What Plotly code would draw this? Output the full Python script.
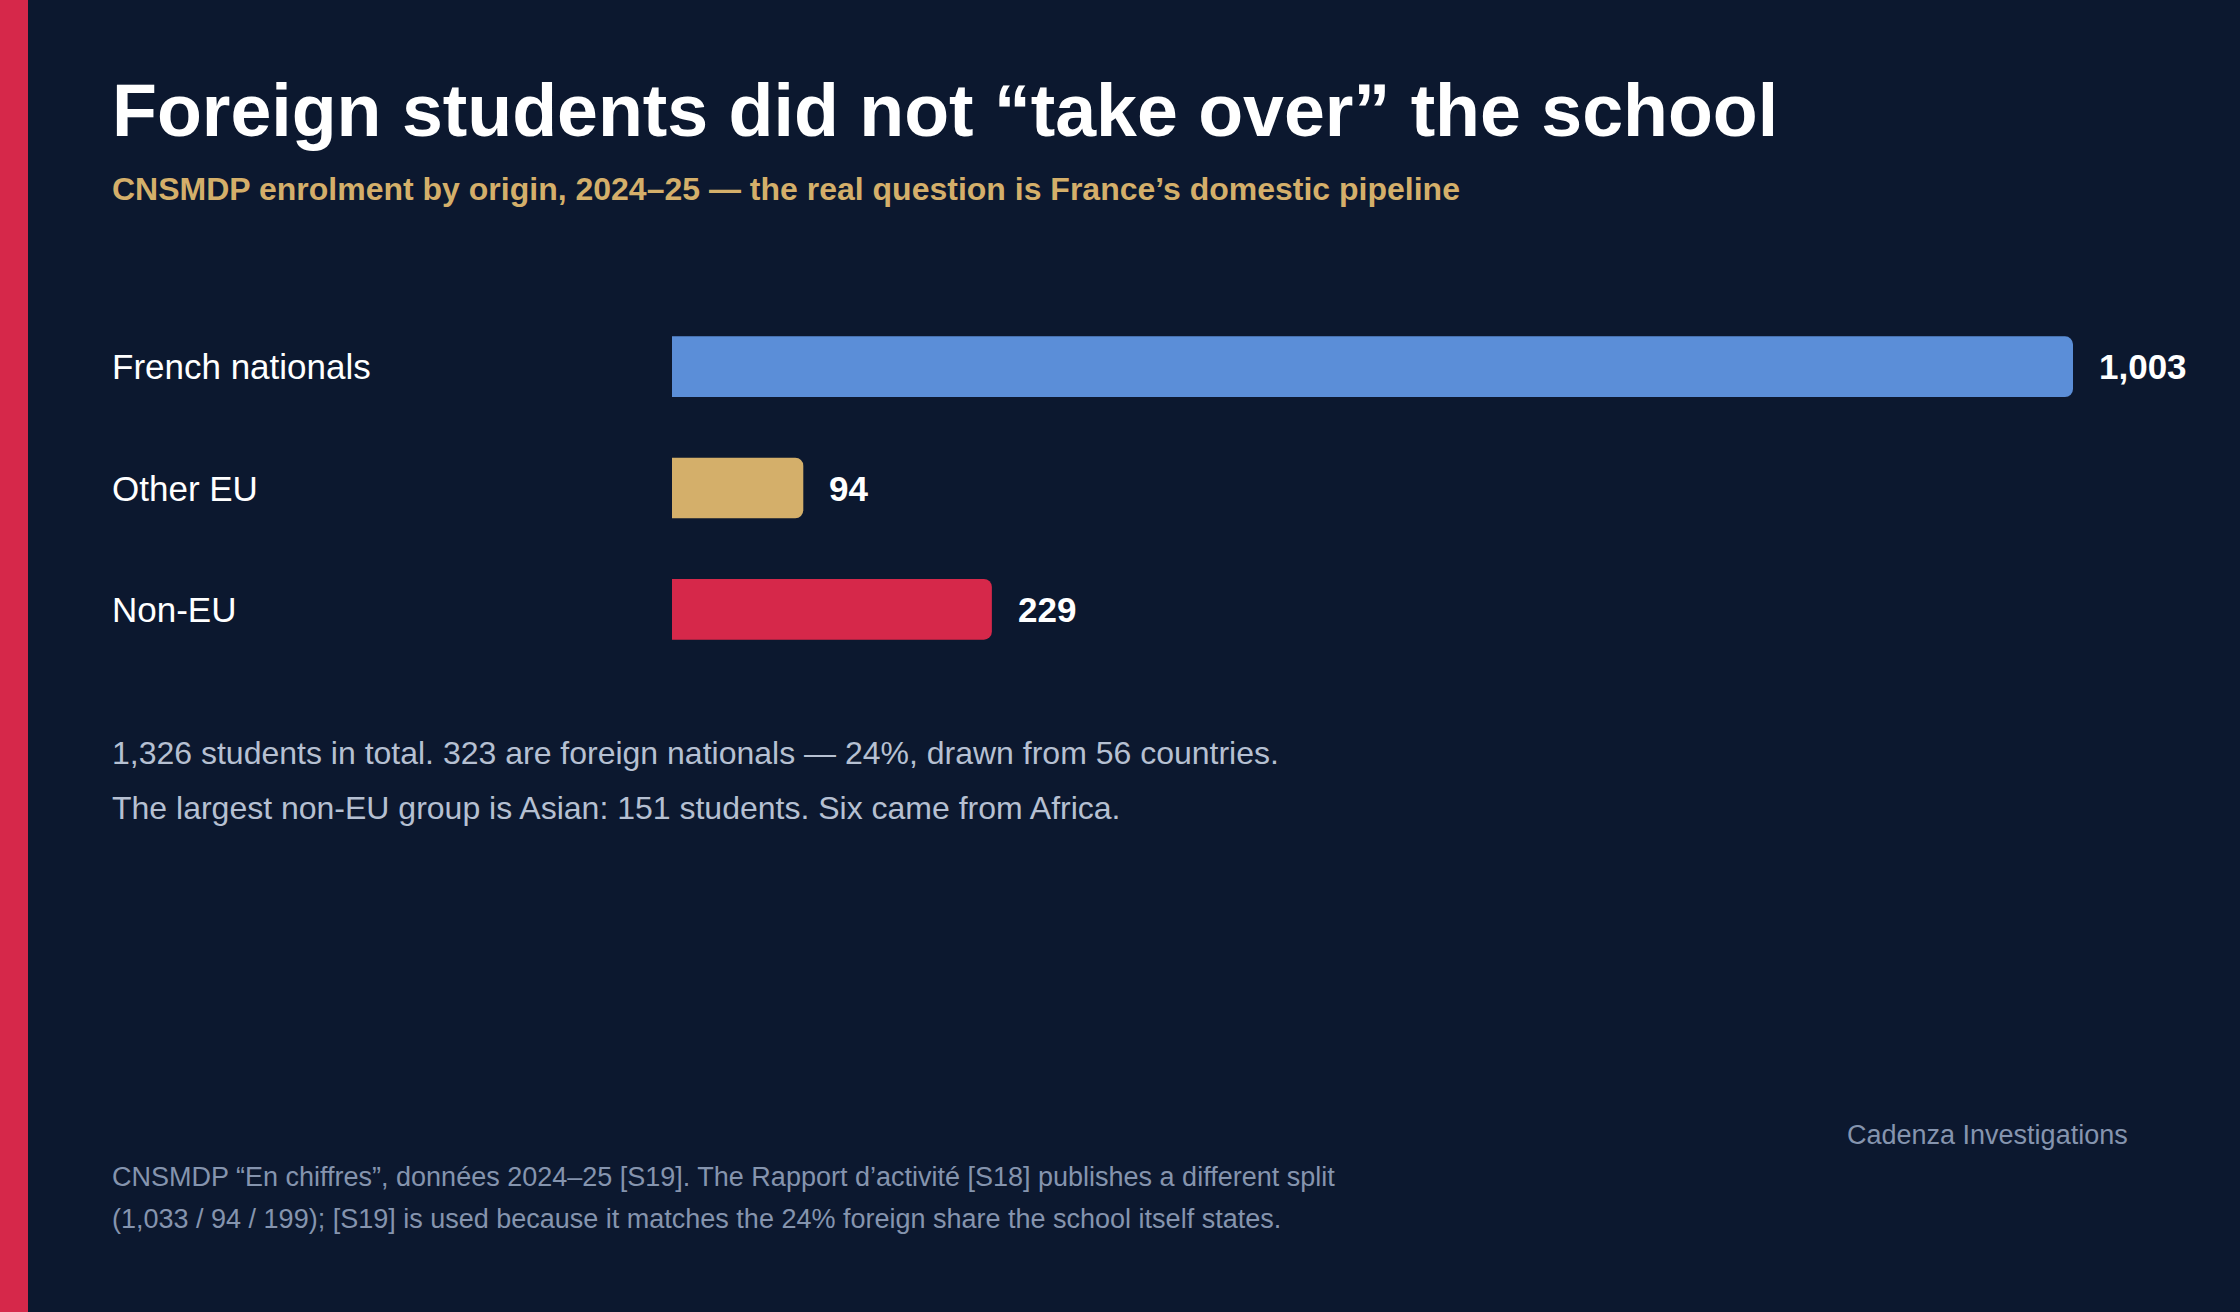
import plotly.graph_objects as go

# data
categories = ["French nationals", "Other EU", "Non-EU"]
students = [1003, 94, 229]
bar_colors = ["#5B8ED8", "#D4AF6A", "#D6284A"]

title = "Foreign students did not “take over” the school"
subtitle = "CNSMDP enrolment by origin, 2024–25 — the real question is France’s domestic pipeline"
note_lines = [
    "1,326 students in total. 323 are foreign nationals — 24%, drawn from 56 countries.",
    "The largest non-EU group is Asian: 151 students. Six came from Africa.",
]
source_lines = [
    "CNSMDP “En chiffres”, données 2024–25 [S19]. The Rapport d’activité [S18] publishes a different split",
    "(1,033 / 94 / 199); [S19] is used because it matches the 24% foreign share the school itself states.",
]
credit = "Cadenza Investigations"

W, H = 2240, 1312
L, R, T, B = 672, 167, 306, 642
PW, PH = W - L - R, H - T - B
BG = "#0C182F"
FONT = "Liberation Sans, Arial, Helvetica, sans-serif"
TEXT_X = 110


def px_x(x):
    return (x - L) / PW


def px_y(y):
    return 1 - (y - T) / PH


fig = go.Figure(go.Bar(
    x=students,
    y=categories,
    orientation="h",
    marker=dict(color=bar_colors, line=dict(width=0)),
    width=0.5,
    hoverinfo="skip",
))

annotations = []

# title block
annotations.append(dict(text=f"<b>{title}</b>", x=px_x(TEXT_X), y=px_y(110), xref="paper", yref="paper",
                        xanchor="left", yanchor="middle", showarrow=False,
                        font=dict(size=73.5, color="#FFFFFF", family=FONT)))
annotations.append(dict(text=f"<b>{subtitle}</b>", x=px_x(TEXT_X), y=px_y(189), xref="paper", yref="paper",
                        xanchor="left", yanchor="middle", showarrow=False,
                        font=dict(size=32, color="#D4AF6A", family=FONT)))

# row labels and values
for cat, val in zip(categories, students):
    annotations.append(dict(text=cat, x=px_x(TEXT_X), y=cat, xref="paper", yref="y",
                            xanchor="left", yanchor="middle", showarrow=False,
                            font=dict(size=35, color="#FFFFFF", family=FONT)))
    annotations.append(dict(text=f"<b>{val:,}</b>", x=val, y=cat, xref="x", yref="y",
                            xanchor="left", yanchor="middle", xshift=24, showarrow=False,
                            font=dict(size=35, color="#FFFFFF", family=FONT)))

# notes
for i, line in enumerate(note_lines):
    annotations.append(dict(text=line, x=px_x(TEXT_X), y=px_y(753 + 55 * i), xref="paper", yref="paper",
                            xanchor="left", yanchor="middle", showarrow=False,
                            font=dict(size=32, color="#B6C0D2", family=FONT)))

for i, line in enumerate(source_lines):
    annotations.append(dict(text=line, x=px_x(TEXT_X), y=px_y(1177 + 42 * i), xref="paper", yref="paper",
                            xanchor="left", yanchor="middle", showarrow=False,
                            font=dict(size=27, color="#8594AE", family=FONT)))

annotations.append(dict(text=credit, x=px_x(2130), y=px_y(1135), xref="paper", yref="paper",
                        xanchor="right", yanchor="middle", showarrow=False,
                        font=dict(size=27, color="#8594AE", family=FONT)))

fig.update_layout(
    width=W,
    height=H,
    margin=dict(l=L, r=R, t=T, b=B),
    paper_bgcolor=BG,
    plot_bgcolor=BG,
    showlegend=False,
    barcornerradius=8,
    annotations=annotations,
    shapes=[dict(type="rect", xref="paper", yref="paper", x0=px_x(0), x1=px_x(28),
                 y0=px_y(H), y1=px_y(0), fillcolor="#D6284A", line=dict(width=0), layer="below")],
    xaxis=dict(range=[0, max(students)], visible=False, fixedrange=True),
    yaxis=dict(categoryorder="array", categoryarray=categories, autorange="reversed",
               visible=False, fixedrange=True),
)

# page has a default body margin; drop it so the figure sits flush
fig.write_html("out.html", config={"displayModeBar": False},
               post_script="document.body.style.margin='0';document.body.style.overflow='hidden';")
